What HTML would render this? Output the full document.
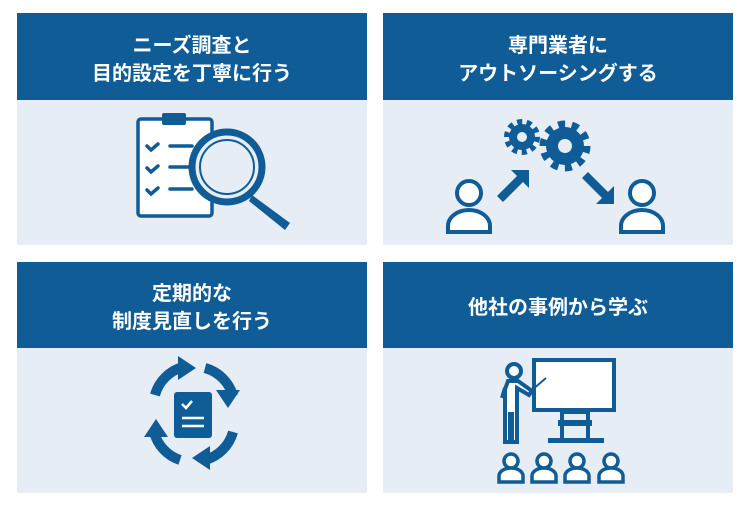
<!DOCTYPE html>
<html><head><meta charset="utf-8"><style>
body{margin:0;background:#fff;width:750px;height:510px;overflow:hidden}
svg{display:block}
text{font-family:"Liberation Sans","Noto Sans CJK JP",sans-serif;font-weight:bold;fill:#fff;font-size:20px;text-anchor:middle}
</style></head><body>
<svg width="750" height="510" viewBox="0 0 750 510">
<g fill="#e6edf4">
<rect x="17" y="100" width="350" height="145"/><rect x="383" y="100" width="350" height="145"/>
<rect x="17" y="348" width="350" height="145"/><rect x="383" y="348" width="350" height="145"/>
</g>
<g fill="#0f5c96">
<rect x="17" y="13" width="350" height="87"/><rect x="383" y="13" width="350" height="87"/>
<rect x="17" y="262" width="350" height="86"/><rect x="383" y="262" width="350" height="86"/>
</g>
<text x="192" y="52">ニーズ調査と</text>
<text x="192" y="80">目的設定を丁寧に行う</text>
<text x="558" y="52">専門業者に</text>
<text x="558" y="80">アウトソーシングする</text>
<text x="192" y="300">定期的な</text>
<text x="192" y="328">制度見直しを行う</text>
<text x="558" y="314">他社の事例から学ぶ</text>

<!-- clipboard + magnifier -->
<g stroke="#0f5c96" fill="none" stroke-width="3.5">
<rect x="138" y="119" width="74" height="97" rx="3" fill="#fff"/>
<path d="M147 146l4 4 7-6M147 168l4 4 7-6M147 190l4 4 7-6M170 146h22M170 167h22M170 189h22" stroke-linecap="round"/>
<circle cx="227" cy="167" r="35" fill="#e6edf4" stroke-width="7"/>
<circle cx="227" cy="167" r="27" stroke-width="2"/>
</g>
<rect x="162" y="113" width="24" height="12" rx="2" fill="#0f5c96"/>
<path d="M252 195 l38 28 -5 7 -36 -29z" fill="#0f5c96"/>

<!-- people & gears -->
<g fill="#0f5c96">
<circle cx="522" cy="137" r="13"/><circle cx="565" cy="146" r="19"/>
<path d="M497 196l20-20-6-6h18v18l-6-6-20 20z"/>
<path d="M588 172l20 20 6-6v18h-18l6-6-20-20z"/>
</g>
<circle cx="522" cy="137" r="15" fill="none" stroke="#0f5c96" stroke-width="6" stroke-dasharray="5 4.4"/>
<circle cx="565" cy="146" r="22" fill="none" stroke="#0f5c96" stroke-width="7" stroke-dasharray="7 6.8"/>
<g fill="#e6edf4"><circle cx="522" cy="137" r="5"/><circle cx="565" cy="146" r="7"/></g>
<g stroke="#0f5c96" stroke-width="4" fill="#fff">
<circle cx="469" cy="193" r="12"/><path d="M448 232v-6a21 16 0 0 1 42 0v6z"/>
<circle cx="642" cy="193" r="12"/><path d="M621 232v-6a21 16 0 0 1 42 0v6z"/>
</g>

<!-- cycle -->
<g fill="none" stroke="#0f5c96" stroke-width="10">
<path d="M155 395a40 40 0 0 1 28-28"/><path d="M205 368a40 40 0 0 1 28 28"/>
<path d="M233 432a40 40 0 0 1 -28 28"/><path d="M180 460a40 40 0 0 1 -26 -28"/>
</g>
<g fill="#0f5c96">
<path d="M178 356l18 12-18 12z"/><path d="M240 390l-12 18-12-18z"/>
<path d="M210 470l-18-12 18-12z"/><path d="M144 437l12-18 12 18z"/>
<rect x="174" y="392" width="38" height="46" rx="3"/>
</g>
<g stroke="#fff" stroke-width="2.5" fill="none"><path d="M182 404l4 4 6-7M182 418h22M182 426h22"/></g>

<!-- presenter -->
<g stroke="#0f5c96" stroke-width="4" fill="#fff">
<rect x="534" y="360" width="80" height="50"/>
<circle cx="514" cy="371" r="7"/>
<path d="M508 381h10l14 10-3 4-12-7v54h-5v-28h-2v28h-5v-54l-3 10z"/>
</g>
<path d="M532 390l14-12" stroke="#0f5c96" stroke-width="2"/>
<g fill="#0f5c96"><rect x="560" y="410" width="30" height="4"/><rect x="558" y="420" width="34" height="6"/><rect x="560" y="410" width="4" height="30"/><rect x="586" y="410" width="4" height="30"/><rect x="548" y="438" width="56" height="5"/></g>
<g stroke="#0f5c96" stroke-width="3.5" fill="#fff">
<circle cx="511" cy="461" r="7"/><path d="M499 482v-6a12 8 0 0 1 24 0v6z"/>
<circle cx="544" cy="461" r="7"/><path d="M532 482v-6a12 8 0 0 1 24 0v6z"/>
<circle cx="577" cy="461" r="7"/><path d="M565 482v-6a12 8 0 0 1 24 0v6z"/>
<circle cx="611" cy="461" r="7"/><path d="M599 482v-6a12 8 0 0 1 24 0v6z"/>
</g>
</svg>
</body></html>
